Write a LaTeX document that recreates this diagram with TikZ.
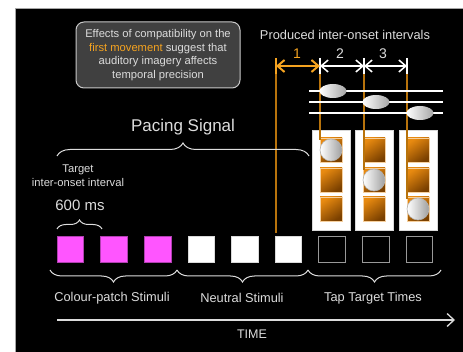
\documentclass[tikz,border=0pt]{standalone}
\usepackage{fontspec}
\setmainfont{Liberation Sans}
\usetikzlibrary{arrows.meta,decorations.pathreplacing,calc,shapes.geometric}
\definecolor{txtc}{HTML}{DCDCDC}
\definecolor{orng}{HTML}{F5A320}
\definecolor{vline}{HTML}{B8730C}
\definecolor{mag}{HTML}{FF55FF}
\definecolor{magb}{HTML}{B040B0}
\definecolor{boxf}{HTML}{404040}
\definecolor{boxd}{HTML}{C8C8C8}
\definecolor{sqA}{HTML}{E88A10}
\definecolor{sqB}{HTML}{7A4000}
\begin{document}
\begin{tikzpicture}[x=1pt,y=-1pt,
  lbl/.style={text=txtc, inner sep=0, font=\fontsize{12.8}{15}\selectfont},
  stimsq/.style={minimum width=26.5pt, minimum height=26.5pt, inner sep=0, line width=0.8pt},
  magsq/.style={stimsq, fill=mag, draw=magb},
  whsq/.style={stimsq, fill=white, draw=white!85!black},
  tapsq/.style={stimsq, fill=black, draw=gray!80},
  bracestyle/.style={draw=txtc, line width=1pt, decorate},
  colbox/.style={fill=white, draw=white!85!black, minimum width=38pt, minimum height=100pt, inner sep=0},
  orsq/.style={minimum width=22pt, minimum height=24pt, inner sep=0, top color=sqA, bottom color=sqB, shading angle=35, draw=sqA!40!white, line width=0.5pt},
  ball/.style={circle, minimum size=22pt, inner sep=0, left color=white, right color=gray!75, draw=gray!60, line width=0.6pt},
  oval/.style={ellipse, minimum width=27pt, minimum height=14pt, inner sep=0, left color=white, right color=gray!70},
  staff/.style={draw=white, line width=1.2pt},
  vl/.style={draw=vline, line width=1.4pt},
  tick/.style={draw=white, line width=1.5pt},
  iarrow/.style={draw=white, line width=1.5pt, {Straight Barb[length=7pt,width=12pt]}-{Straight Barb[length=7pt,width=12pt]}},
]
\useasboundingbox (0,0) rectangle (463,352);
\fill[white] (0,0) rectangle (463,352);
\fill[black] (15,8) rectangle (463,352);
\draw[gray!70, line width=1pt] (15.5,352) -- (15.5,8.5) -- (463,8.5);

% callout
\node[fill=boxf, draw=boxd, line width=1pt, rounded corners=8pt, minimum width=164pt, minimum height=66pt, align=center, text=txtc, font=\fontsize{11.2}{13.5}\selectfont, inner sep=0] (note) at (158,55)
 {Effects of compatibility on the\\ \textcolor{orng}{first movement} suggest that\\ auditory imagery affects\\ temporal precision};

% title
\node[lbl] (prod) at (345,35) {Produced inter-onset intervals};

% columns
\foreach \i/\x in {1/331,2/374,3/418} {
  \node[colbox] (col\i) at (\x,180) {};
  \foreach \j/\y in {1/150,2/180,3/209} {
    \node[orsq] (o\i\j) at (\x,\y) {};
  }
}

% tick coordinates
\coordinate (t1) at (276,66);
\coordinate (t2) at (320,66);
\coordinate (t3) at (364,66);
\coordinate (t4) at (407,66);
\coordinate (b1) at (276,233);
\coordinate (b2) at (320,140);
\coordinate (b3) at (364,170);
\coordinate (b4) at (407,199);

% vertical lines
\foreach \k in {1,2,3,4} { \draw[vl] ($(t\k)+(0,8)$) -- (b\k); }

% balls on squares
\node[ball] (ball1) at (331,150) {};
\node[ball] (ball2) at (374,180) {};
\node[ball] (ball3) at (418,209) {};

% ticks
\draw[draw=orng, line width=1.8pt] ($(t1)+(0,-8)$) -- ($(t1)+(0,8)$);
\foreach \k in {2,3,4} { \draw[tick] ($(t\k)+(0,-8)$) -- ($(t\k)+(0,8)$); }
\draw[iarrow, draw=orng, line width=2pt] (t1) -- (t2);
\draw[iarrow] (t2) -- (t3);
\draw[iarrow] (t3) -- (t4);
\node[lbl, text=orng, font=\fontsize{14}{16}\selectfont] (n1) at (297,54) {1};
\node[lbl, font=\fontsize{14}{16}\selectfont] (n2) at (340,54) {2};
\node[lbl, font=\fontsize{14}{16}\selectfont] (n3) at (383,54) {3};

% staff
\coordinate (s1a) at (309,91); \coordinate (s1b) at (443,91);
\coordinate (s2a) at (309,102); \coordinate (s2b) at (443,102);
\coordinate (s3a) at (309,113); \coordinate (s3b) at (443,113);
\draw[staff] (s1a) -- (s1b);
\draw[staff] (s2a) -- (s2b);
\draw[staff] (s3a) -- (s3b);
\node[oval] (e1) at (333,91) {};
\node[oval] (e2) at (376,102) {};
\node[oval] (e3) at (420,113) {};

% stimulus squares
\node[magsq] (q1) at (70.5,249.5) {};
\node[magsq] (q2) at (114.1,249.5) {};
\node[magsq] (q3) at (157.7,249.5) {};
\node[whsq] (q4) at (201.3,249.5) {};
\node[whsq] (q5) at (244.9,249.5) {};
\node[whsq] (q6) at (288.5,249.5) {};
\node[tapsq] (q7) at (332.1,249.5) {};
\node[tapsq] (q8) at (375.7,249.5) {};
\node[tapsq] (q9) at (419.3,249.5) {};

% bottom braces
\coordinate (br0) at (50,270);
\coordinate (br1) at (177,270);
\coordinate (br2) at (308,270);
\coordinate (br3) at (441,270);
\draw[bracestyle, decoration={brace, mirror, amplitude=12pt}] (br0) -- (br1);
\draw[bracestyle, decoration={brace, mirror, amplitude=12pt}] (br1) -- (br2);
\draw[bracestyle, decoration={brace, mirror, amplitude=12pt}] (br2) -- (br3);
\node[lbl] (l1) at (112,298) {Colour-patch Stimuli};
\node[lbl] (l2) at (242,298) {Neutral Stimuli};
\node[lbl] (l3) at (373,298) {Tap Target Times};

% time arrow
\coordinate (ta) at (57,320);
\coordinate (tb) at (455,320);
\draw[draw=txtc, line width=1.3pt, -{Straight Barb[length=7pt,width=13pt]}] (ta) -- (tb);
\node[lbl, font=\fontsize{12.5}{15}\selectfont] (time) at (252,334) {TIME};

% pacing signal
\coordinate (pa) at (57,156);
\coordinate (pb) at (309,156);
\draw[bracestyle, decoration={brace, amplitude=13pt}] (pa) -- (pb);
\node[lbl, font=\fontsize{17}{20}\selectfont] (pace) at (183,127) {Pacing Signal};

% target interval
\node[lbl, align=center, font=\fontsize{11.2}{14}\selectfont] (target) at (78,176) {Target\\inter-onset interval};
\node[lbl, font=\fontsize{15}{18}\selectfont] (ms) at (80,205) {600 ms};
\coordinate (ia) at (57,229);
\coordinate (ib) at (102,229);
\draw[bracestyle, decoration={brace, amplitude=9pt}] (ia) -- (ib);
\end{tikzpicture}
\end{document}
